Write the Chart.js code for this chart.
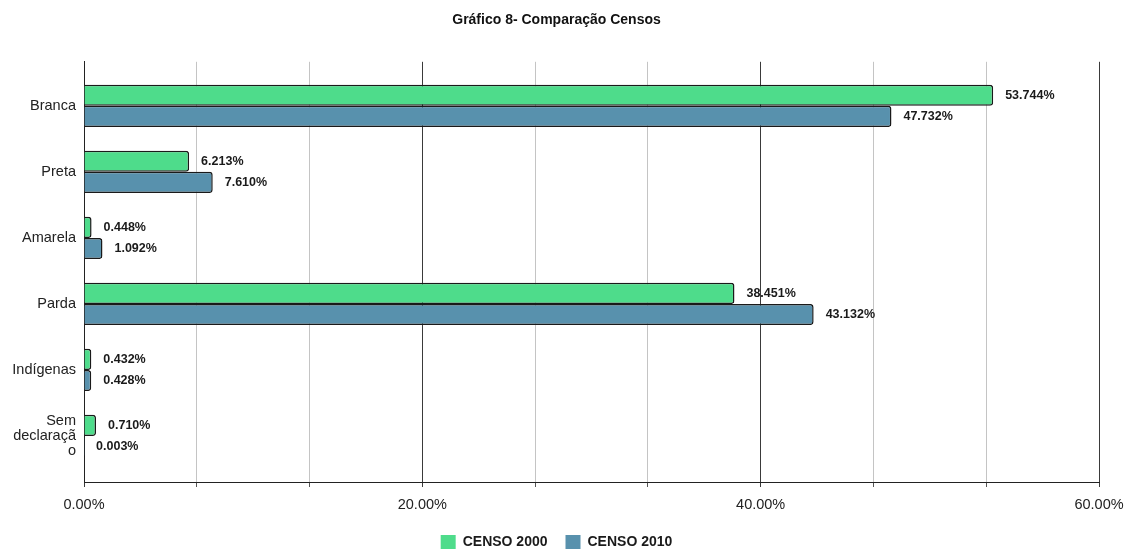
<!DOCTYPE html>
<html>
<head>
<meta charset="utf-8">
<script src="https://cdn.jsdelivr.net/npm/chart.js@4/dist/chart.umd.min.js"></script>
<style>
  html, body { margin: 0; padding: 0; background: #fff; }
  #wrap { width: 1137px; height: 549px; position: relative; }
</style>
</head>
<body>
<div id="wrap"><canvas id="c"></canvas></div>
<script>
const categories = ['Branca', 'Preta', 'Amarela', 'Parda', 'Indígenas', 'Sem declaração'];
const tickLabels = [['Branca'], ['Preta'], ['Amarela'], ['Parda'], ['Indígenas'], ['Sem', 'declaraçã', 'o']];
const censo2000 = [53.744, 6.213, 0.448, 38.451, 0.432, 0.710];
const censo2010 = [47.732, 7.610, 1.092, 43.132, 0.428, 0.003];
const seriesNames = ['CENSO 2000', 'CENSO 2010'];
const xTickValues = [0, 20/3, 40/3, 20, 80/3, 100/3, 40, 140/3, 160/3, 60];

const FONT = '"Liberation Sans", Arial, sans-serif';
const isMajor = v => Math.abs(v / 20 - Math.round(v / 20)) < 1e-6;

const valueLabels = {
  id: 'valueLabels',
  afterDatasetsDraw(chart) {
    const ctx = chart.ctx;
    ctx.save();
    ctx.font = 'bold 12.5px ' + FONT;
    ctx.fillStyle = '#1a1a1a';
    ctx.textAlign = 'left';
    ctx.textBaseline = 'middle';
    chart.data.datasets.forEach((ds, di) => {
      const meta = chart.getDatasetMeta(di);
      meta.data.forEach((el, i) => {
        const v = ds.data[i].x;
        ctx.fillText(v.toFixed(3) + '%', el.x + 12, el.y);
      });
    });
    ctx.restore();
  }
};

new Chart(document.getElementById('c'), {
  type: 'bar',
  data: {
    labels: categories,
    datasets: [
      {
        label: seriesNames[0],
        data: censo2000.map((v, i) => ({ x: v, y: i })),
        backgroundColor: '#4edc8b',
        borderColor: '#1a1a1a',
        borderWidth: 1.5,
        borderRadius: 3,
        borderSkipped: 'start'
      },
      {
        label: seriesNames[1],
        data: censo2010.map((v, i) => ({ x: v, y: i })),
        backgroundColor: '#5891ad',
        borderColor: '#1a1a1a',
        borderWidth: 1.5,
        borderRadius: 3,
        borderSkipped: 'start'
      }
    ]
  },
  options: {
    indexAxis: 'y',
    responsive: true,
    maintainAspectRatio: false,
    animation: false,
    categoryPercentage: 0.64,
    barPercentage: 1.0,
    layout: { padding: { left: 0, right: 24, top: 0, bottom: -11 } },
    plugins: {
      title: {
        display: true,
        text: 'Gráfico 8- Comparação Censos',
        color: '#111',
        font: { family: FONT, size: 14, weight: 'bold' },
        padding: { top: 12, bottom: 33 }
      },
      legend: {
        display: true,
        position: 'bottom',
        labels: {
          color: '#1a1a1a',
          font: { family: FONT, size: 14, weight: 'bold' },
          boxWidth: 15,
          boxHeight: 15,
          padding: 18,
          generateLabels: chart => Chart.defaults.plugins.legend.labels.generateLabels(chart)
            .map(l => Object.assign(l, { lineWidth: 0, strokeStyle: 'rgba(0,0,0,0)' }))
        }
      },
      tooltip: { enabled: false }
    },
    scales: {
      x: {
        type: 'linear',
        min: 0,
        max: 60,
        offset: false,
        afterBuildTicks: s => { s.ticks = xTickValues.map(v => ({ value: v })); },
        afterFit: s => { s.paddingRight = 38; s.paddingLeft = 0; s.height = 35; },
        ticks: {
          autoSkip: false,
          maxRotation: 0,
          padding: 9,
          color: '#222',
          font: { family: FONT, size: 14.5 },
          callback: v => isMajor(v) ? v.toFixed(2) + '%' : ''
        },
        grid: {
          display: true,
          offset: false,
          drawOnChartArea: true,
          drawTicks: true,
          tickLength: 5,
          lineWidth: 1,
          color: c => isMajor(c.tick.value) ? '#3a3a3a' : '#c4c4c4',
          tickColor: c => isMajor(c.tick.value) ? '#3a3a3a' : '#555'
        },
        border: { display: true, color: '#222', width: 1 }
      },
      y: {
        type: 'linear',
        reverse: true,
        offset: false,
        min: -0.667,
        max: 5.697,
        afterBuildTicks: s => { s.ticks = categories.map((_, i) => ({ value: i })); },
        afterFit: s => { s.width = 84; },
        ticks: {
          autoSkip: false,
          padding: 8,
          color: '#222',
          font: { family: FONT, size: 14.5, lineHeight: 1.03 },
          callback: v => tickLabels[v]
        },
        grid: { display: false, drawTicks: false, offset: false },
        border: { display: true, color: '#222', width: 1 }
      }
    }
  },
  plugins: [valueLabels]
});
</script>
</body>
</html>
